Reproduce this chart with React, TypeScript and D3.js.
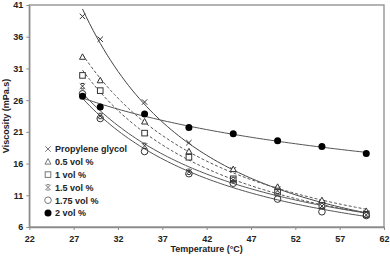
// Viscosity vs temperature for propylene glycol based nanofluids, with power-law trendlines
import React, { useEffect, useRef } from 'react';
import * as d3 from 'd3';

const temperatures = [28, 30, 35, 40, 45, 50, 55, 60];

const propyleneGlycol = [39.2, 35.6, 25.7, 19.3, 15.0, 12.0, 9.8, 8.2];
const vol05 = [32.8, 29.1, 22.6, 17.9, 15.1, 12.3, 10.2, 8.5];
const vol1 = [29.9, 27.5, 20.8, 17.0, 13.6, 11.5, 9.4, 8.0];
const vol15 = [28.2, 23.5, 18.8, 14.7, 13.4, 11.7, 9.3, 7.9];
const vol175 = [27.0, 23.1, 17.9, 14.4, 12.9, 10.4, 8.4, 7.8];
const vol2 = [26.6, 24.9, 23.8, 21.7, 20.7, 19.6, 18.7, 17.6];

const seriesNames = ['Propylene glycol', '0.5 vol %', '1 vol %', '1.5 vol %', '1.75 vol %', '2 vol %'];
const markerKinds = ['x', 'triangle', 'square', 'star', 'circle', 'dot'];
const lineDashes = ['', '3,2', '3,2', '', '', ''];

const xTicks = [22, 27, 32, 37, 42, 47, 52, 57, 62];
const yTicks = [6, 11, 16, 21, 26, 31, 36, 41];

// least squares fit of v = a * T^b (same as a spreadsheet "power" trendline)
function powerFit(xs: number[], ys: number[]) {
  const lx = xs.map(Math.log);
  const ly = ys.map(Math.log);
  const mx = d3.mean(lx) as number;
  const my = d3.mean(ly) as number;
  const b = d3.sum(lx, (v, i) => (v - mx) * (ly[i] - my)) / d3.sum(lx, (v) => (v - mx) * (v - mx));
  const lnA = my - b * mx;
  return (t: number) => Math.exp(lnA + b * Math.log(t));
}

const App: React.FC = () => {
  const svgRef = useRef<SVGSVGElement>(null);

  useEffect(() => {
    const svg = d3.select(svgRef.current);
    svg.selectAll('*').remove();

    const width = 390;
    const height = 256;
    const font = '"Liberation Sans", Arial, sans-serif';
    const frame = '#8c8c8c';

    const x = d3.scaleLinear().domain([22, 62]).range([29.3, 384]);
    const y = d3.scaleLinear().domain([6, 41]).range([227, 5]);

    svg.attr('width', width).attr('height', height);

    // frame
    svg
      .append('rect')
      .attr('x', x(22))
      .attr('y', y(41))
      .attr('width', x(62) - x(22))
      .attr('height', y(6) - y(41))
      .attr('fill', 'none')
      .attr('stroke', frame)
      .attr('stroke-width', 1.3);

    // axes
    const xAxis = svg
      .append('g')
      .attr('transform', `translate(0, ${y(6)})`)
      .call(d3.axisBottom(x).tickValues(xTicks).tickSize(3).tickSizeOuter(0));
    const yAxis = svg
      .append('g')
      .attr('transform', `translate(${x(22)}, 0)`)
      .call(d3.axisLeft(y).tickValues(yTicks).tickSize(3).tickSizeOuter(0));

    [xAxis, yAxis].forEach((g) => {
      g.select('.domain').attr('stroke', frame).attr('stroke-width', 1.3);
      g.selectAll('.tick line').attr('stroke', frame);
      g.selectAll('.tick text')
        .attr('fill', '#222')
        .style('font-family', font)
        .style('font-size', '9px')
        .style('font-weight', 'bold');
    });
    xAxis.selectAll('.tick text').attr('dy', '1.05em');
    yAxis.selectAll('.tick text').attr('x', -6);

    svg
      .append('text')
      .attr('x', (x(22) + x(62)) / 2)
      .attr('y', 252)
      .attr('text-anchor', 'middle')
      .attr('fill', '#222')
      .style('font-family', font)
      .style('font-size', '9px')
      .style('font-weight', 'bold')
      .text('Temperature (°C)');

    svg
      .append('text')
      .attr('transform', 'rotate(-90)')
      .attr('x', -(y(6) + y(41)) / 2)
      .attr('y', 9)
      .attr('text-anchor', 'middle')
      .attr('fill', '#222')
      .style('font-family', font)
      .style('font-size', '9px')
      .style('font-weight', 'bold')
      .text('Viscosity (mPa.s)');

    const allSeries = [propyleneGlycol, vol05, vol1, vol15, vol175, vol2];

    // trendlines
    const tSamples = d3.range(0, 81).map((i) => 28 + (i * (60 - 28)) / 80);
    allSeries.forEach((vals, si) => {
      const f = powerFit(temperatures, vals);
      const line = d3
        .line<number>()
        .x((t) => x(t))
        .y((t) => y(f(t)));
      svg
        .append('path')
        .datum(tSamples)
        .attr('fill', 'none')
        .attr('stroke', si === 0 ? '#444' : '#555')
        .attr('stroke-width', 1)
        .attr('stroke-dasharray', lineDashes[si])
        .attr('d', line);
    });

    const drawMarker = (g: d3.Selection<SVGGElement, unknown, null, undefined>, kind: string, cx: number, cy: number, color: string) => {
      const s = 2.7;
      if (kind === 'x' || kind === 'star') {
        g.append('path')
          .attr('d', `M${cx - s},${cy - s}L${cx + s},${cy + s}M${cx - s},${cy + s}L${cx + s},${cy - s}` +
            (kind === 'star' ? `M${cx - 1.5},${cy - s}L${cx + 1.5},${cy - s}M${cx - 1.5},${cy + s}L${cx + 1.5},${cy + s}` : ''))
          .attr('stroke', color)
          .attr('stroke-width', 1)
          .attr('fill', 'none');
      } else if (kind === 'triangle') {
        g.append('path')
          .attr('d', `M${cx},${cy - 3.2}L${cx + 3},${cy + 2.3}L${cx - 3},${cy + 2.3}Z`)
          .attr('stroke', color)
          .attr('fill', 'white');
      } else if (kind === 'square') {
        g.append('rect')
          .attr('x', cx - 2.8)
          .attr('y', cy - 2.8)
          .attr('width', 5.6)
          .attr('height', 5.6)
          .attr('stroke', color)
          .attr('fill', 'white');
      } else if (kind === 'circle') {
        g.append('circle').attr('cx', cx).attr('cy', cy).attr('r', 3.3).attr('stroke', color).attr('fill', 'none');
      } else {
        g.append('circle').attr('cx', cx).attr('cy', cy).attr('r', 3.5).attr('fill', '#000');
      }
    };

    // data markers
    allSeries.forEach((vals, si) => {
      const g = svg.append('g');
      vals.forEach((v, i) => drawMarker(g, markerKinds[si], x(temperatures[i]), y(v), '#333'));
    });

    // legend
    const legend = svg.append('g');
    seriesNames.forEach((name, i) => {
      const ly = 149 + i * 12.8;
      drawMarker(legend, markerKinds[i], 48, ly, '#777');
      legend
        .append('text')
        .attr('x', 55)
        .attr('y', ly + 3.3)
        .attr('fill', '#222')
        .style('font-family', font)
        .style('font-size', '9px')
        .style('font-weight', 'bold')
        .text(name);
    });
  }, []);

  return (
    <div style={{ position: 'absolute', left: 0, top: 0, width: 390, height: 256, background: '#fff' }}>
      <svg ref={svgRef} style={{ display: 'block' }}></svg>
    </div>
  );
};

export default App;
